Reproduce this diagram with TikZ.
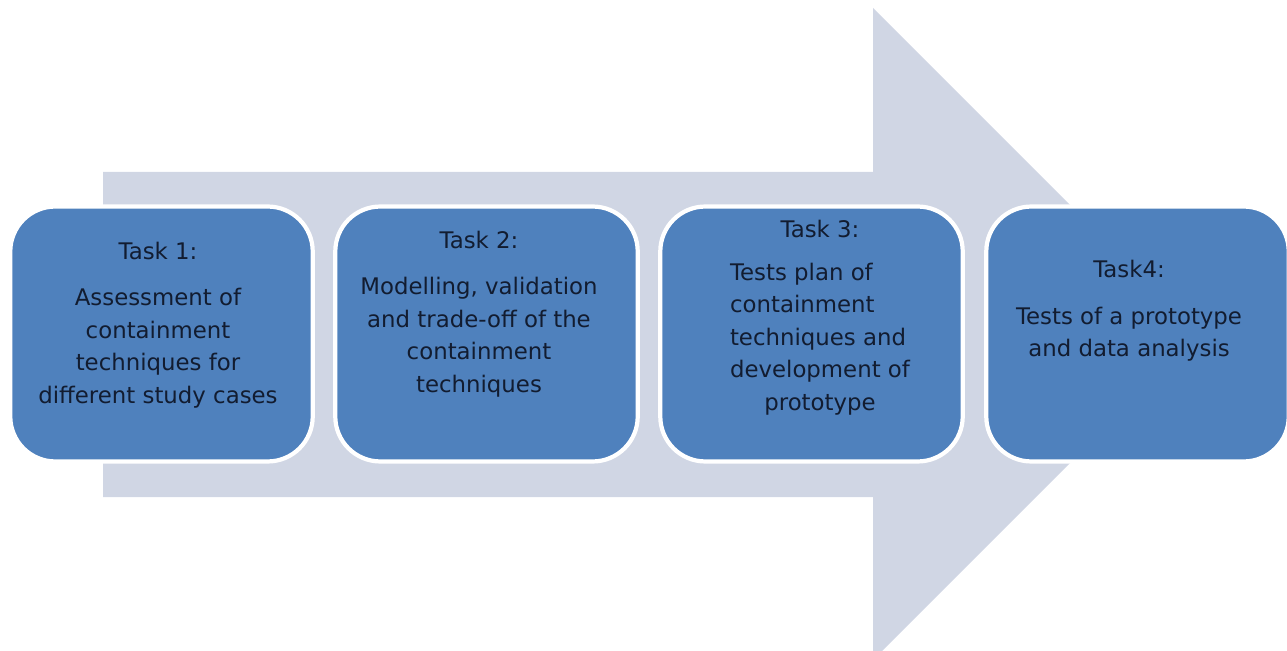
\documentclass[tikz,border=0pt]{standalone}
\usepackage{fontspec}
\setmainfont{DejaVu Sans}
\usetikzlibrary{positioning}
\definecolor{taskblue}{RGB}{79, 129, 189}
\definecolor{arrowgray}{RGB}{208, 214, 228}
\definecolor{textnavy}{RGB}{18, 28, 48}

\begin{document}
\begin{tikzpicture}[x = 0.02cm, y = -0.02cm,
	taskbox/.style = {rounded corners = 0.9cm, fill = taskblue, draw = white, line width = 2.4pt, minimum width = 6.05cm, minimum height = 5.1cm},
	tasktext/.style = {align = center, text = textnavy, font = \fontsize{13}{18.5}\selectfont}]
			\useasboundingbox (0,0) rectangle (1287,651);
			\fill[arrowgray] (103,172) -- (873,172) -- (873,8) -- (1199,334) -- (873,660) -- (873,497) -- (103,497) -- cycle;
			\node (t1) at (161.5,334) [taskbox] {};
			\node (t2) at (486.5,334) [taskbox] {};
			\node (t3) at (811.5,334) [taskbox] {};
			\node (t4) at (1137.5,334) [taskbox] {};
			\node (l1) at (158,325) [tasktext] {Task 1:\\[8pt]Assessment of\\containment\\techniques for\\different study cases};
			\node (l2) at (479,314) [tasktext] {Task 2:\\[8pt]Modelling, validation\\and trade-off of the\\containment\\techniques};
			\node (l3) at (820,320) [tasktext] {Task 3:\\[10.5pt]\begin{tabular}{@{}l@{}}Tests plan of\\containment\\techniques and\\development of\\\multicolumn{1}{@{}c@{}}{prototype}\end{tabular}};
			\node (l4) at (1129,311) [tasktext] {Task4:\\[8pt]Tests of a prototype\\and data analysis};
\end{tikzpicture}
\end{document}
